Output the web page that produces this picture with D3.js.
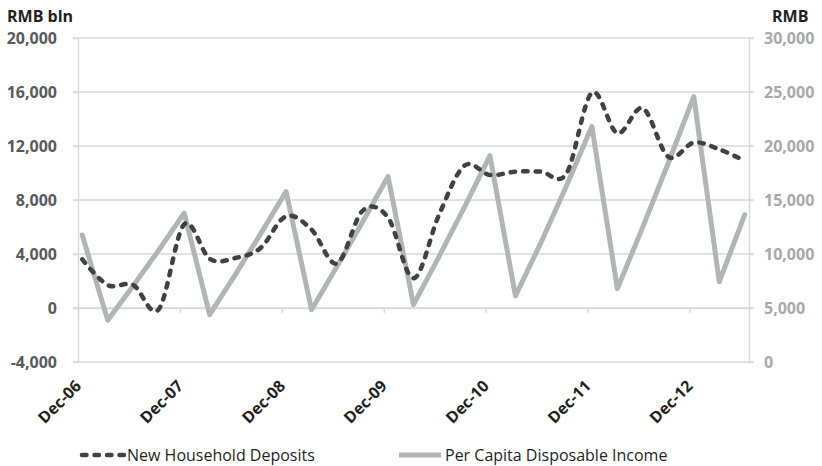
<!DOCTYPE html>
<html>
<head>
<meta charset="utf-8">
<script src="https://cdn.jsdelivr.net/npm/d3@7/dist/d3.min.js"></script>
<style>
  html, body { margin: 0; padding: 0; background: #fff; }
  svg { display: block; }
  text { font-family: "Open Sans", "Noto Sans", sans-serif; }
</style>
</head>
<body>
<svg id="chart" width="822" height="466"></svg>
<script>
// Quarterly observations, Dec-06 .. Jun-13
const quarters = [
  "Dec-06","Mar-07","Jun-07","Sep-07",
  "Dec-07","Mar-08","Jun-08","Sep-08",
  "Dec-08","Mar-09","Jun-09","Sep-09",
  "Dec-09","Mar-10","Jun-10","Sep-10",
  "Dec-10","Mar-11","Jun-11","Sep-11",
  "Dec-11","Mar-12","Jun-12","Sep-12",
  "Dec-12","Mar-13","Jun-13"
];

// New household deposits, RMB bln (left axis)
const deposits = [
  3600, 1700, 1700, -100,
  6200, 3650, 3700, 4450,
  6800, 5800, 3300, 7200,
  6700, 2200, 6900, 10550,
  9850, 10100, 10100, 9950,
  15950, 12950, 14800, 11200,
  12250, 11750, 10900
];

// Per capita disposable income, cumulative year to date, RMB (right axis)
const income = [
  11759, 3876, 7052, 10346,
  13786, 4386, 8065, 11865,
  15781, 4834, 8856, 12973,
  17175, 5308, 9757, 14335,
  19109, 6125, 11041, 16301,
  21810, 6796, 12509, 18427,
  24565, 7427, 13649
];

const leftTicks = [-4000, 0, 4000, 8000, 12000, 16000, 20000];
const rightTicks = [0, 5000, 10000, 15000, 20000, 25000, 30000];
const yearLabels = ["Dec-06","Dec-07","Dec-08","Dec-09","Dec-10","Dec-11","Dec-12"];
const seriesNames = ["New Household Deposits", "Per Capita Disposable Income"];

const svg = d3.select("#chart");
const plot = { left: 78, right: 749, top: 38, bottom: 362 };

// monthly time axis: one slot per month, observations sit mid-slot
const monthCount = (quarters.length - 1) * 3 + 1;
const x = d3.scaleLinear().domain([0, monthCount]).range([plot.left, plot.right]);
const xq = i => x(i * 3 + 0.5);

const yL = d3.scaleLinear().domain([-4000, 20000]).range([plot.bottom, plot.top]);
const yR = d3.scaleLinear().domain([0, 30000]).range([plot.bottom, plot.top]);

const fmt = v => d3.format(",")(v).replace("\u2212", "-");

const gridColor = "#d9d9d9";
const depColor = "#414042";
const incColor = "#b3b4b6";

// horizontal gridlines
svg.append("g").selectAll("line")
  .data(leftTicks)
  .join("line")
  .attr("x1", plot.left - 5).attr("x2", plot.right + 5)
  .attr("y1", d => yL(d)).attr("y2", d => yL(d))
  .attr("stroke", gridColor).attr("stroke-width", 1.5);

// left axis
const gL = svg.append("g")
  .attr("transform", `translate(${plot.left},0)`)
  .call(d3.axisLeft(yL).tickValues(leftTicks).tickFormat(fmt).tickSize(5).tickSizeOuter(0).tickPadding(16));
gL.select(".domain").attr("stroke", gridColor).attr("stroke-width", 1.5);
gL.selectAll(".tick line").attr("stroke", gridColor).attr("stroke-width", 1.5);
gL.selectAll(".tick text")
  .attr("fill", "#58595b").attr("font-size", 16).attr("font-weight", 700)
  .style("font-family", "'Open Sans', sans-serif");

// right axis
const gR = svg.append("g")
  .attr("transform", `translate(${plot.right},0)`)
  .call(d3.axisRight(yR).tickValues(rightTicks).tickFormat(fmt).tickSize(5).tickSizeOuter(0).tickPadding(10));
gR.select(".domain").attr("stroke", gridColor).attr("stroke-width", 1.5);
gR.selectAll(".tick line").attr("stroke", gridColor).attr("stroke-width", 1.5);
gR.selectAll(".tick text")
  .attr("fill", "#a7a9ac").attr("font-size", 16).attr("font-weight", 700)
  .style("font-family", "'Open Sans', sans-serif");

// category axis crossing at zero, yearly tick marks
const gX = svg.append("g")
  .attr("transform", `translate(0,${yL(0)})`)
  .call(d3.axisBottom(x).tickValues(d3.range(0, monthCount, 12)).tickFormat("").tickSize(5).tickSizeOuter(0));
gX.select(".domain").attr("stroke", gridColor).attr("stroke-width", 1.5);
gX.selectAll(".tick line").attr("stroke", gridColor).attr("stroke-width", 1.5);

// rotated year labels
svg.append("g").selectAll("text")
  .data(yearLabels)
  .join("text")
  .attr("transform", d => `translate(${xq(quarters.indexOf(d)) - 3},384) rotate(-45)`)
  .attr("text-anchor", "end")
  .attr("dominant-baseline", "middle")
  .attr("font-size", 16).attr("font-weight", 700)
  .attr("fill", "#231f20")
  .text(d => d);

// income line (right axis)
svg.append("path")
  .datum(income)
  .attr("fill", "none")
  .attr("stroke", incColor)
  .attr("stroke-width", 5)
  .attr("stroke-linejoin", "round")
  .attr("stroke-linecap", "round")
  .attr("d", d3.line().x((d, i) => xq(i)).y(d => yR(d)));

// deposits line (left axis), smoothed and dashed
svg.append("path")
  .datum(deposits)
  .attr("fill", "none")
  .attr("stroke", depColor)
  .attr("stroke-width", 4.5)
  .attr("stroke-dasharray", "4.5,8")
  .attr("stroke-linecap", "round")
  .attr("d", d3.line().x((d, i) => xq(i)).y(d => yL(d)).curve(d3.curveCatmullRom.alpha(0)));

// axis titles
svg.append("text").attr("x", 7).attr("y", 22)
  .attr("font-size", 16).attr("font-weight", 700).attr("fill", "#231f20").text("RMB bln");
svg.append("text").attr("x", 772).attr("y", 22)
  .attr("font-size", 16).attr("font-weight", 700).attr("fill", "#231f20").text("RMB");

// legend
const legend = svg.append("g");
legend.append("line")
  .attr("x1", 82).attr("x2", 124).attr("y1", 455).attr("y2", 455)
  .attr("stroke", depColor).attr("stroke-width", 4.5)
  .attr("stroke-dasharray", "4.5,8").attr("stroke-linecap", "round");
legend.append("text").attr("x", 127).attr("y", 461)
  .attr("font-size", 16).attr("fill", "#231f20").text(seriesNames[0]);
legend.append("line")
  .attr("x1", 399).attr("x2", 441).attr("y1", 455).attr("y2", 455)
  .attr("stroke", incColor).attr("stroke-width", 5);
legend.append("text").attr("x", 445).attr("y", 461)
  .attr("font-size", 16).attr("fill", "#231f20").text(seriesNames[1]);
</script>
</body>
</html>
